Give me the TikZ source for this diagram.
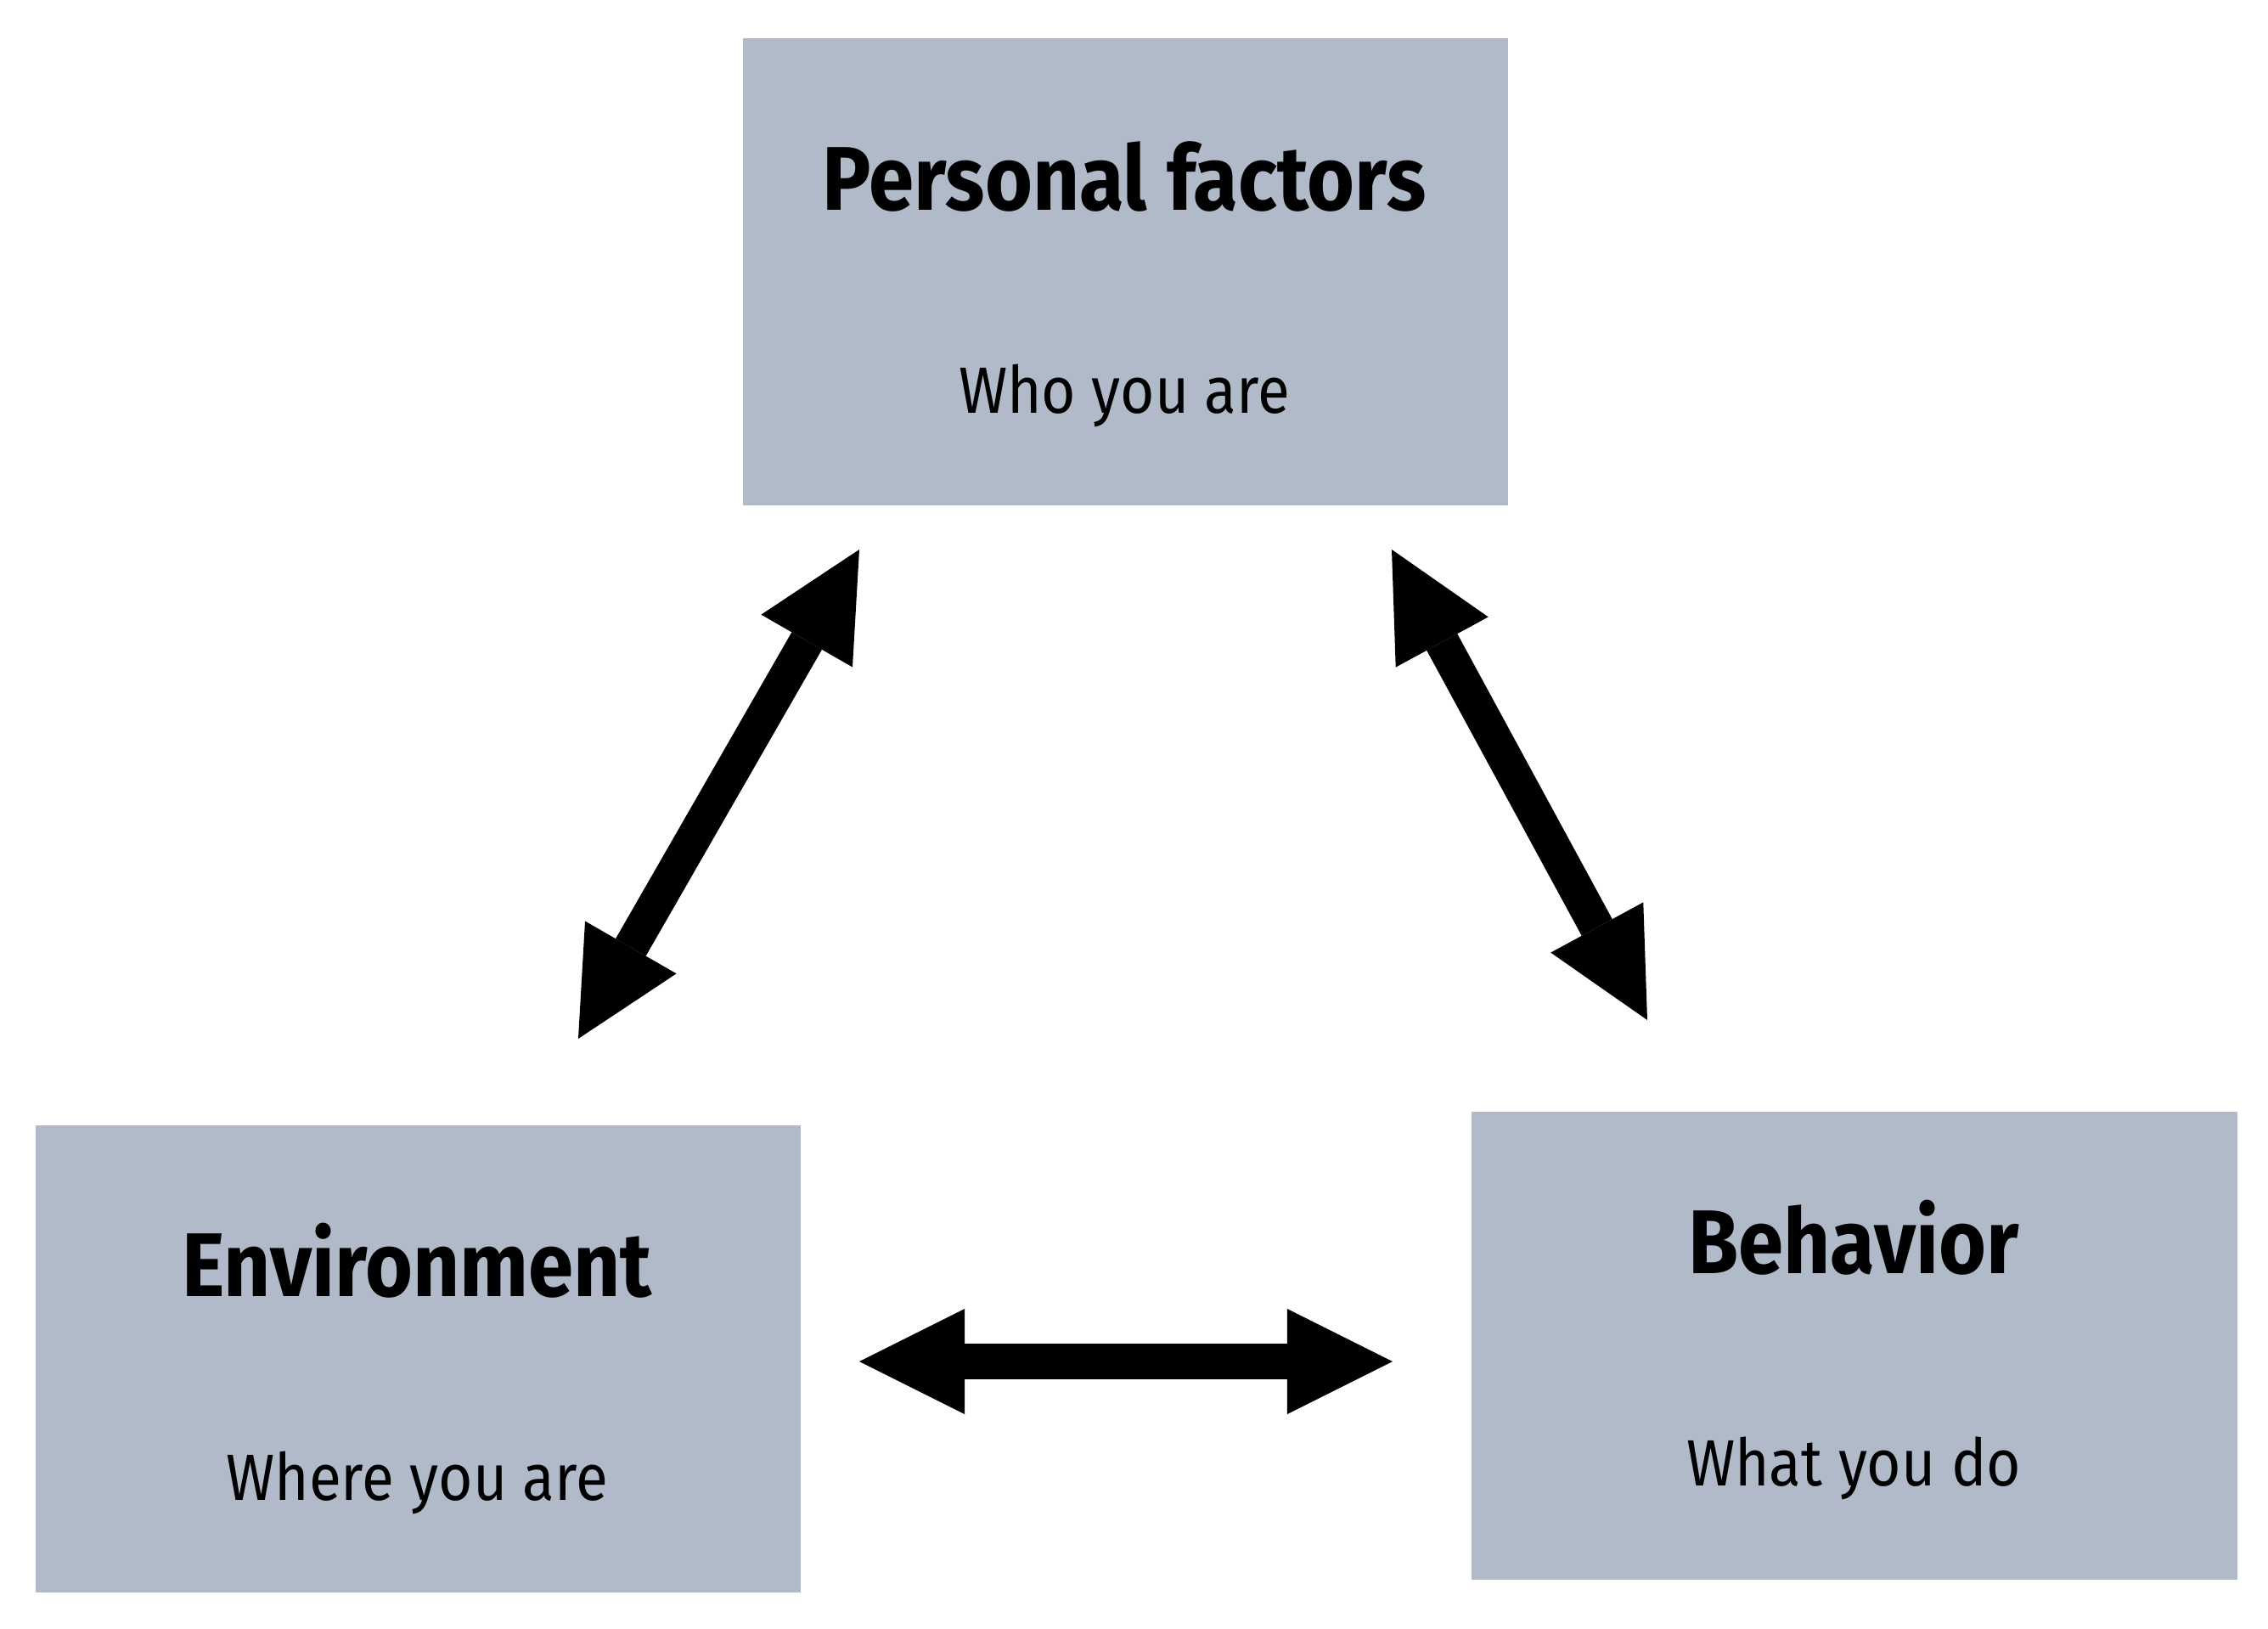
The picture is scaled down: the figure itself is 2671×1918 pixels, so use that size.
\documentclass[tikz,border=0pt]{standalone}
\usepackage{fontspec}
\setmainfont{Fira Sans}
\newfontfamily\ttlfont[FakeStretch=0.9]{Fira Sans Bold}
\newfontfamily\subfont[FakeStretch=0.9]{Fira Sans}
\usetikzlibrary{arrows.meta}
\definecolor{boxfill}{HTML}{B0BAC9}
\tikzset{
  factorbox/.style={draw=none, fill=boxfill, inner sep=0pt, anchor=north west},
  ttl/.style={anchor=base, inner sep=0pt, font=\ttlfont\fontsize{30.3}{36}\selectfont},
  sub/.style={anchor=base, inner sep=0pt, font=\subfont\fontsize{21.9}{26}\selectfont},
  dblarrow/.style={line width=4.1mm, {Triangle[length=12.4mm, width=12.4mm, line width=0pt]}-{Triangle[length=12.4mm, width=12.4mm, line width=0pt]}}
}
\begin{document}
\begin{tikzpicture}[x=0.01cm,y=-0.01cm]
\useasboundingbox (0,0) rectangle (2671,1918);
% boxes
\node[factorbox, minimum width=9.01cm, minimum height=5.50cm] (pbox) at (874,44) {};
\node[factorbox, minimum width=9.01cm, minimum height=5.50cm] (ebox) at (41,1324) {};
\node[factorbox, minimum width=9.02cm, minimum height=5.51cm] (bbox) at (1732,1308) {};
% texts
\node[ttl] (ptitle) at (1324,247) {Personal factors};
\node[sub] (psub) at (1324,486) {Who you are};
\node[ttl] (etitle) at (491,1526) {Environment};
\node[sub] (esub) at (491,1766) {Where you are};
\node[ttl] (btitle) at (2183,1499) {Behavior};
\node[sub] (bsub) at (2183,1749) {What you do};
% arrow end points
\coordinate (pe1) at (681,1223);
\coordinate (pe2) at (1012,647);
\coordinate (pb1) at (1639,647);
\coordinate (pb2) at (1940,1201);
\coordinate (eb1) at (1012,1603);
\coordinate (eb2) at (1640,1603);
\draw[dblarrow] (pe1) -- (pe2);
\draw[dblarrow] (pb1) -- (pb2);
\draw[dblarrow] (eb1) -- (eb2);
\end{tikzpicture}
\end{document}
